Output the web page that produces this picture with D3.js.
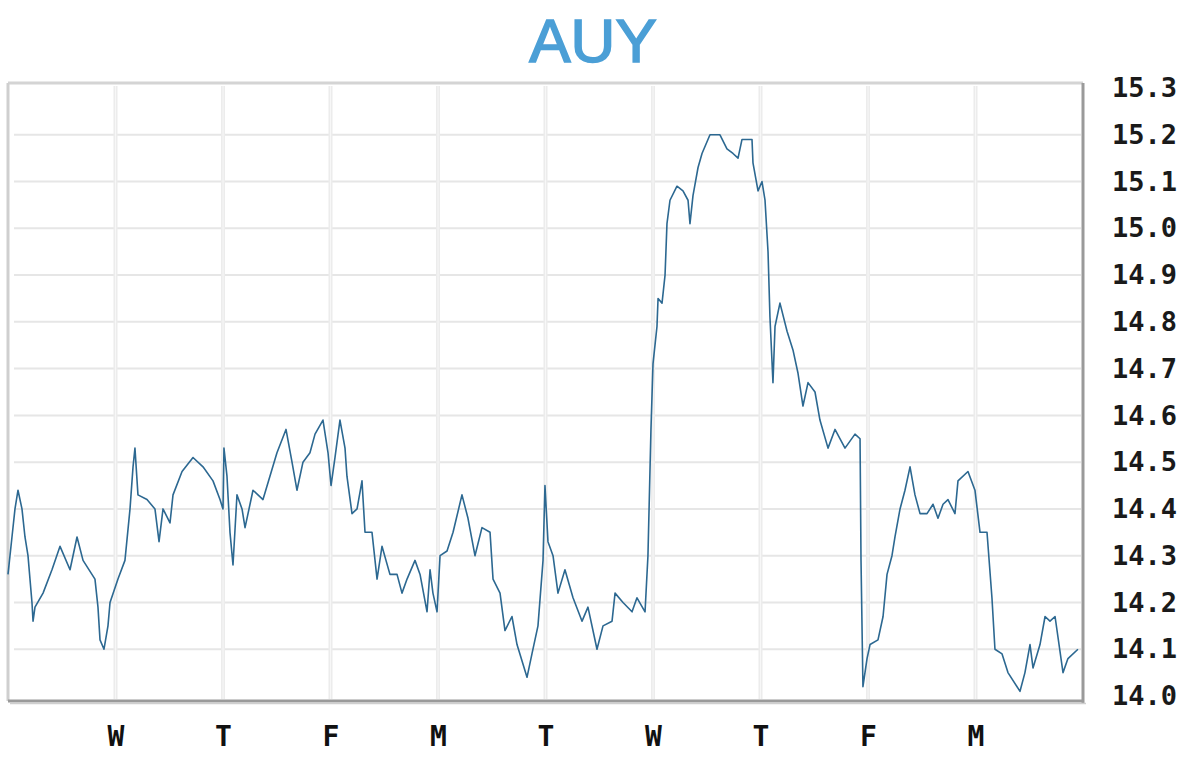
<!DOCTYPE html>
<html>
<head>
<meta charset="utf-8">
<script src="https://cdn.jsdelivr.net/npm/d3@7"></script>
<style>
  html, body { margin: 0; padding: 0; background: #ffffff; }
  svg { display: block; }
</style>
</head>
<body>
<svg id="chart" width="1200" height="771"></svg>
<script>
// ---- data ----
const title = "AUY";
const dayLabels = ["W", "T", "F", "M", "T", "W", "T", "F", "M"];
const yTicks = [14.0, 14.1, 14.2, 14.3, 14.4, 14.5, 14.6, 14.7, 14.8, 14.9, 15.0, 15.1, 15.2, 15.3];
// time in trading days since the start of the window
const times = [
  0, 0.037, 0.065, 0.093, 0.130, 0.158, 0.186, 0.223, 0.233, 0.251,
  0.326, 0.409, 0.484, 0.577, 0.642, 0.698, 0.809, 0.837, 0.856, 0.893,
  0.930, 0.949, 1.023, 1.088, 1.135, 1.163, 1.181, 1.209, 1.293, 1.367,
  1.405, 1.442, 1.507, 1.535, 1.619, 1.721, 1.814, 1.907, 1.972, 2.000,
  2.009, 2.037, 2.065, 2.093, 2.130, 2.177, 2.205, 2.279, 2.372, 2.502,
  2.586, 2.642, 2.688, 2.744, 2.809, 2.856, 2.930, 2.977, 3.005, 3.042,
  3.088, 3.135, 3.153, 3.200, 3.247, 3.293, 3.321, 3.386, 3.433, 3.479,
  3.553, 3.619, 3.665, 3.712, 3.786, 3.833, 3.898, 3.926, 3.953, 3.991,
  4.019, 4.084, 4.140, 4.223, 4.279, 4.344, 4.409, 4.484, 4.512, 4.577,
  4.623, 4.688, 4.735, 4.828, 4.874, 4.930, 4.977, 4.995, 5.023, 5.070,
  5.116, 5.181, 5.256, 5.340, 5.395, 5.479, 5.535, 5.619, 5.647, 5.721,
  5.805, 5.851, 5.926, 5.953, 5.981, 6.000, 6.037, 6.047, 6.084, 6.112,
  6.130, 6.158, 6.223, 6.279, 6.326, 6.344, 6.372, 6.419, 6.456, 6.530,
  6.623, 6.688, 6.744, 6.791, 6.828, 6.921, 6.930, 6.977, 7.014, 7.042,
  7.070, 7.088, 7.116, 7.135, 7.181, 7.247, 7.302, 7.349, 7.395, 7.442,
  7.507, 7.553, 7.628, 7.693, 7.786, 7.879, 7.926, 7.935, 7.953, 7.991,
  8.019, 8.093, 8.140, 8.177, 8.223, 8.251, 8.298, 8.344, 8.391, 8.437,
  8.484, 8.549, 8.605, 8.651, 8.698, 8.744, 8.809, 8.837, 8.930, 8.995,
  9.042, 9.107, 9.153, 9.181, 9.247, 9.302, 9.414, 9.460, 9.507, 9.535,
  9.600, 9.647, 9.693, 9.740, 9.814, 9.860, 9.953
];
const prices = [
  14.26, 14.34, 14.40, 14.44, 14.40, 14.34, 14.30, 14.20, 14.16, 14.19,
  14.22, 14.27, 14.32, 14.27, 14.34, 14.29, 14.25, 14.19, 14.12, 14.10,
  14.15, 14.20, 14.25, 14.29, 14.40, 14.49, 14.53, 14.43, 14.42, 14.40,
  14.33, 14.40, 14.37, 14.43, 14.48, 14.51, 14.49, 14.46, 14.42, 14.40,
  14.53, 14.47, 14.35, 14.28, 14.43, 14.40, 14.36, 14.44, 14.42, 14.52,
  14.57, 14.50, 14.44, 14.50, 14.52, 14.56, 14.59, 14.52, 14.45, 14.51,
  14.59, 14.53, 14.47, 14.39, 14.40, 14.46, 14.35, 14.35, 14.25, 14.32,
  14.26, 14.26, 14.22, 14.25, 14.29, 14.26, 14.18, 14.27, 14.22, 14.18,
  14.30, 14.31, 14.35, 14.43, 14.38, 14.30, 14.36, 14.35, 14.25, 14.22,
  14.14, 14.17, 14.11, 14.04, 14.09, 14.15, 14.29, 14.45, 14.33, 14.30,
  14.22, 14.27, 14.21, 14.16, 14.19, 14.10, 14.15, 14.16, 14.22, 14.20,
  14.18, 14.21, 14.18, 14.30, 14.57, 14.71, 14.79, 14.85, 14.84, 14.90,
  15.01, 15.06, 15.09, 15.08, 15.06, 15.01, 15.07, 15.13, 15.16, 15.20,
  15.20, 15.17, 15.16, 15.15, 15.19, 15.19, 15.14, 15.08, 15.10, 15.06,
  14.95, 14.81, 14.67, 14.79, 14.84, 14.78, 14.74, 14.69, 14.62, 14.67,
  14.65, 14.59, 14.53, 14.57, 14.53, 14.56, 14.55, 14.29, 14.02, 14.08,
  14.11, 14.12, 14.17, 14.26, 14.30, 14.34, 14.40, 14.44, 14.49, 14.43,
  14.39, 14.39, 14.41, 14.38, 14.41, 14.42, 14.39, 14.46, 14.48, 14.44,
  14.35, 14.35, 14.21, 14.10, 14.09, 14.05, 14.01, 14.05, 14.11, 14.06,
  14.11, 14.17, 14.16, 14.17, 14.05, 14.08, 14.10
];

// ---- layout ----
const svg = d3.select("#chart");
const plot = { left: 8, right: 1083, top: 83, bottom: 701 };

const x = d3.scaleLinear().domain([0, 10]).range([plot.left, plot.right]);
const y = d3.scaleLinear().domain([14.0, 15.3]).range([696, 88]);

// title
svg.append("text")
  .attr("x", 593).attr("y", 62)
  .attr("text-anchor", "middle")
  .attr("font-family", "'Liberation Sans', Arial, sans-serif")
  .attr("font-size", 62)
  .attr("fill", "#4b9fd6")
  .attr("stroke", "#4b9fd6")
  .attr("stroke-width", 1.6)
  .text(title);

// horizontal gridlines
svg.append("g").selectAll("line")
  .data(yTicks.filter(d => d > 14.0 && d < 15.3))
  .join("line")
  .attr("x1", plot.left + 6).attr("x2", plot.right - 2)
  .attr("y1", d => y(d)).attr("y2", d => y(d))
  .attr("stroke", "#e6e6e6").attr("stroke-width", 2);

// vertical gridlines (day boundaries)
const dayIdx = d3.range(1, dayLabels.length + 1);
svg.append("g").selectAll("line")
  .data(dayIdx)
  .join("line")
  .attr("x1", d => x(d)).attr("x2", d => x(d))
  .attr("y1", plot.top + 3).attr("y2", plot.bottom - 2)
  .attr("stroke", "#ececec").attr("stroke-width", 4);
svg.append("g").selectAll("line")
  .data(dayIdx)
  .join("line")
  .attr("x1", d => x(d)).attr("x2", d => x(d))
  .attr("y1", plot.top + 3).attr("y2", plot.bottom - 2)
  .attr("stroke", "#f7f7f7").attr("stroke-width", 1);

// frame: light top/left, dark bottom/right
svg.append("line").attr("x1", plot.left).attr("x2", plot.right)
  .attr("y1", plot.top).attr("y2", plot.top)
  .attr("stroke", "#d4d4d4").attr("stroke-width", 3);
svg.append("line").attr("x1", plot.left).attr("x2", plot.left)
  .attr("y1", plot.top).attr("y2", plot.bottom)
  .attr("stroke", "#cfcfcf").attr("stroke-width", 3);
svg.append("line").attr("x1", plot.right).attr("x2", plot.right)
  .attr("y1", plot.top).attr("y2", plot.bottom + 2)
  .attr("stroke", "#9a9a9a").attr("stroke-width", 3);
svg.append("line").attr("x1", plot.left).attr("x2", plot.right + 1)
  .attr("y1", plot.bottom).attr("y2", plot.bottom)
  .attr("stroke", "#9a9a9a").attr("stroke-width", 3);
svg.append("line").attr("x1", plot.left + 2).attr("x2", plot.right + 3)
  .attr("y1", plot.bottom + 2.5).attr("y2", plot.bottom + 2.5)
  .attr("stroke", "#cfcfcf").attr("stroke-width", 1.5);

// price line
const pts = times.map((t, i) => [t, prices[i]]);
const line = d3.line().x(d => x(d[0])).y(d => y(d[1]));
svg.append("path")
  .datum(pts)
  .attr("d", line)
  .attr("fill", "none")
  .attr("stroke", "#2c6891")
  .attr("stroke-width", 1.6)
  .attr("stroke-linejoin", "round");

// right axis labels
const yAxis = d3.axisRight(y).tickValues(yTicks).tickFormat(d3.format(".1f")).tickSize(0).tickPadding(0);
const ya = svg.append("g").attr("transform", `translate(1112,0)`).call(yAxis);
ya.select(".domain").remove();
ya.selectAll("text")
  .attr("font-family", "'DejaVu Sans Mono', monospace")
  .attr("font-weight", "bold")
  .attr("font-size", 27)
  .attr("fill", "#1a1a1a");

// bottom day labels
const xAxis = d3.axisBottom(x).tickValues(dayIdx).tickFormat((d, i) => dayLabels[i]).tickSize(0).tickPadding(0);
const xa = svg.append("g").attr("transform", `translate(0,726)`).call(xAxis);
xa.select(".domain").remove();
xa.selectAll("text")
  .attr("font-family", "'DejaVu Sans Mono', monospace")
  .attr("font-weight", "bold")
  .attr("font-size", 28)
  .attr("fill", "#111");
</script>
</body>
</html>
